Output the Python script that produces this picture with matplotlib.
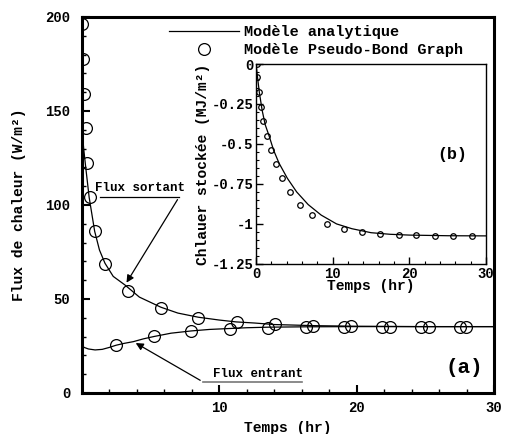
import matplotlib
matplotlib.use('Agg')
import matplotlib.pyplot as plt
from matplotlib.lines import Line2D
from matplotlib.ticker import MultipleLocator, FixedLocator

# police type Courier, en gras
FONT = 'Liberation Mono'
plt.rcParams['font.family'] = [FONT, 'DejaVu Sans']
plt.rcParams['font.weight'] = 'bold'

# --- (a) flux de chaleur ---
# modele analytique, flux sortant
t_sortant = [0.0, 0.15, 0.3, 0.55, 0.95, 1.3, 1.7, 2.3, 3.16, 4.2, 5.77, 7.0, 8.48,
             10.0, 11.24, 12.6, 14.0, 17.0, 20.0, 25.0, 30.0]
q_sortant = [143, 130, 120, 104, 86, 76, 69, 62, 57.4, 51, 45.6, 42.5, 40.3,
             38.8, 37.8, 37.2, 36.4, 35.8, 35.5, 35.3, 35.3]
# modele analytique, flux entrant
t_entrant = [0.0, 0.2, 0.5, 0.98, 1.5, 2.0, 2.51, 3.1, 3.76, 4.5, 5.24, 6.5, 7.97,
             9.3, 10.78, 12.0, 13.57, 16.4, 20.0, 25.0, 30.0]
q_entrant = [25.2, 24.2, 23.4, 22.9, 23.2, 24.2, 25.4, 26.4, 27.3, 28.8, 30.0, 31.8, 33.0,
             33.8, 34.3, 34.7, 35.0, 35.2, 35.3, 35.3, 35.3]
# modele pseudo-bond graph
t_pbg_sortant = [0.01, 0.13, 0.18, 0.3, 0.42, 0.62, 0.98, 1.73, 3.38, 5.77, 8.48,
                 11.27, 14.05, 16.79, 19.62, 22.4, 25.24, 27.97]
q_pbg_sortant = [196, 177.5, 159, 140.8, 122.5, 104, 86, 68.6, 54.3, 45, 40,
                 37.6, 36.5, 35.7, 35.5, 35.3, 35.2, 35.2]
t_pbg_entrant = [2.51, 5.24, 7.97, 10.78, 13.57, 16.35, 19.08, 21.87, 24.65, 27.48]
q_pbg_entrant = [25.7, 30.3, 33.1, 34.2, 34.7, 35.2, 35.3, 35.3, 35.3, 35.3]

# --- (b) chaleur stockee ---
t_stock = [0.0, 0.1, 0.2, 0.43, 0.8, 1.2, 1.7, 2.3, 3.0, 4.09, 5.3, 6.8, 8.5,
           10.5, 12.5, 15.0, 17.5, 20.0, 25.0, 30.0]
e_stock = [0.0, -0.04, -0.085, -0.176, -0.29, -0.38, -0.449, -0.54, -0.62, -0.715, -0.80,
           -0.879, -0.945, -1.0, -1.03, -1.055, -1.065, -1.07, -1.074, -1.075]
t_pbg_stock = [0.09, 0.17, 0.39, 0.65, 0.96, 1.4, 1.96, 2.6, 3.43, 4.43, 5.7, 7.26,
               9.26, 11.5, 13.8, 16.2, 18.6, 20.9, 23.3, 25.7, 28.2]
e_pbg_stock = [0.0, -0.082, -0.176, -0.267, -0.359, -0.449, -0.539, -0.627, -0.715, -0.799,
               -0.879, -0.946, -1.0, -1.031, -1.053, -1.063, -1.069, -1.072, -1.074, -1.074,
               -1.074]

fig = plt.figure(figsize=(5.10, 4.34), dpi=100)
ax = fig.add_axes([0.160, 0.0945, 0.809, 0.8665])

ax.plot(t_sortant, q_sortant, color='k', lw=0.9)
ax.plot(t_entrant, q_entrant, color='k', lw=0.9)
ax.plot(t_pbg_sortant, q_pbg_sortant, 'o', ms=8.5, mfc='none', mec='k', mew=0.9)
ax.plot(t_pbg_entrant, q_pbg_entrant, 'o', ms=8.5, mfc='none', mec='k', mew=0.9)

ax.set_xlim(0, 30)
ax.set_ylim(0, 200)
ax.xaxis.set_major_locator(FixedLocator([10, 20, 30]))
ax.xaxis.set_minor_locator(MultipleLocator(2))
ax.yaxis.set_major_locator(MultipleLocator(50))
ax.yaxis.set_minor_locator(MultipleLocator(10))
ax.tick_params(which='both', direction='in', labelsize=10, pad=8)
ax.tick_params(which='major', length=6, width=1.5)
ax.tick_params(which='minor', length=3, width=1)
for s in ax.spines.values():
    s.set_linewidth(2.2)
for lab in ax.get_xticklabels() + ax.get_yticklabels():
    lab.set_fontweight('bold')
ax.tick_params(axis='x', pad=6)
ax.set_xlabel('Temps (hr)', fontsize=10.5, fontweight='bold', labelpad=4)
ax.set_ylabel('Flux de chaleur (W/m²)', fontsize=10.5, fontweight='bold', labelpad=14)

# annotations des courbes
ax.text(0.98, 107.4, 'Flux sortant', fontsize=9, fontweight='bold', va='baseline')
ax.plot([1.34, 7.08], [104.1, 104.1], color='k', lw=0.9)
ax.annotate('', xy=(3.16, 57.4), xytext=(7.08, 104.1),
            arrowprops=dict(arrowstyle='-|>', color='k', lw=0.9, mutation_scale=11))
ax.text(9.53, 8.7, 'Flux entrant', fontsize=9, fontweight='bold', va='baseline')
ax.plot([8.8, 16.0], [6.0, 6.0], color='#777777', lw=1.2)
ax.annotate('', xy=(3.76, 27.3), xytext=(8.8, 6.0),
            arrowprops=dict(arrowstyle='-|>', color='k', lw=0.9, mutation_scale=11))
ax.text(27.8, 13.8, '(a)', fontsize=15, fontweight='bold', ha='center', va='center')

# legende
handles = [Line2D([], [], color='k', lw=0.9),
           Line2D([], [], ls='none', marker='o', ms=8.5, mfc='none', mec='k', mew=0.9)]
fig.legend(handles, ['Modèle analytique', 'Modèle Pseudo-Bond Graph'],
           loc='upper left', bbox_to_anchor=(169 / 510, 1 - 25 / 434),
           frameon=False, borderpad=0, borderaxespad=0, handlelength=4.6,
           handletextpad=0.3, labelspacing=0.28,
           prop={'family': FONT, 'weight': 'bold', 'size': 11})

# --- encart (b) ---
axi = fig.add_axes([0.502, 0.392, 0.451, 0.4605])
axi.plot(t_stock, e_stock, color='k', lw=0.9)
axi.plot(t_pbg_stock, e_pbg_stock, 'o', ms=4, mfc='none', mec='k', mew=0.9)
axi.set_xlim(0, 30)
axi.set_ylim(-1.25, 0)
axi.xaxis.set_major_locator(MultipleLocator(10))
axi.xaxis.set_minor_locator(MultipleLocator(2))
axi.yaxis.set_major_locator(FixedLocator([0, -0.25, -0.5, -0.75, -1, -1.25]))
axi.yaxis.set_minor_locator(MultipleLocator(0.05))
axi.set_yticklabels(['0', '-0.25', '-0.5', '-0.75', '-1', '-1.25'])
axi.tick_params(which='both', direction='in', labelsize=10, pad=2)
axi.tick_params(which='major', length=5, width=1)
axi.tick_params(which='minor', length=2.5, width=0.8)
for s in axi.spines.values():
    s.set_linewidth(1.0)
for lab in axi.get_xticklabels() + axi.get_yticklabels():
    lab.set_fontweight('bold')
axi.set_xlabel('Temps (hr)', fontsize=10.5, fontweight='bold', labelpad=-1)
axi.set_ylabel('Chlauer stockée (MJ/m²)', fontsize=10.5, fontweight='bold', labelpad=1)
axi.text(25.6, -0.564, '(b)', fontsize=12, fontweight='bold', ha='center', va='center')

fig.savefig('out.png', dpi=100)
